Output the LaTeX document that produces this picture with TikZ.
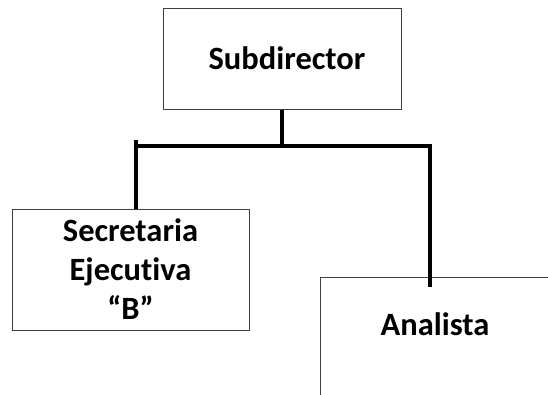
\documentclass[tikz,border=0pt]{standalone}
\usepackage{fontspec}
\setmainfont[Ligatures=NoCommon]{Carlito}
\usepackage{tikz}
\usetikzlibrary{calc, positioning}

\begin{document}
\begin{tikzpicture}[>=latex, x=1pt, y=-1pt,
    puesto/.style={draw=black!75, line width=1pt, align=center, inner sep=0pt,
        font=\bfseries\fontsize{32.5}{39}\selectfont},
    enlace/.style={line width=4.5pt, line join=miter}]
\useasboundingbox (0,0) rectangle (548,394);
% cajas
\node[puesto, minimum width=238pt, minimum height=101pt] (sub) at (282,58.5) {\hspace*{10pt}Subdirector};
\node[puesto, minimum width=237pt, minimum height=121pt] (secre) at (130.5,269.5) {Secretaria\\Ejecutiva\\“B”};
\node[puesto, minimum width=230pt, text height=58pt, text depth=72pt, anchor=base] (ana) at (435,335) {Analista};
% lineas
\coordinate (barra) at (sub.south |- 0,146);
\coordinate (barraL) at (136,146);
\coordinate (barraR) at (430,146);
\draw[enlace] (sub.south) -- (barra);
\draw[enlace] (barraL) -- (barraR) -- ($(ana.north -| barraR)+(0,10)$);
\draw[enlace] ($(barraL)+(0,-6)$) -- (secre.north -| barraL);
\end{tikzpicture}
\end{document}
